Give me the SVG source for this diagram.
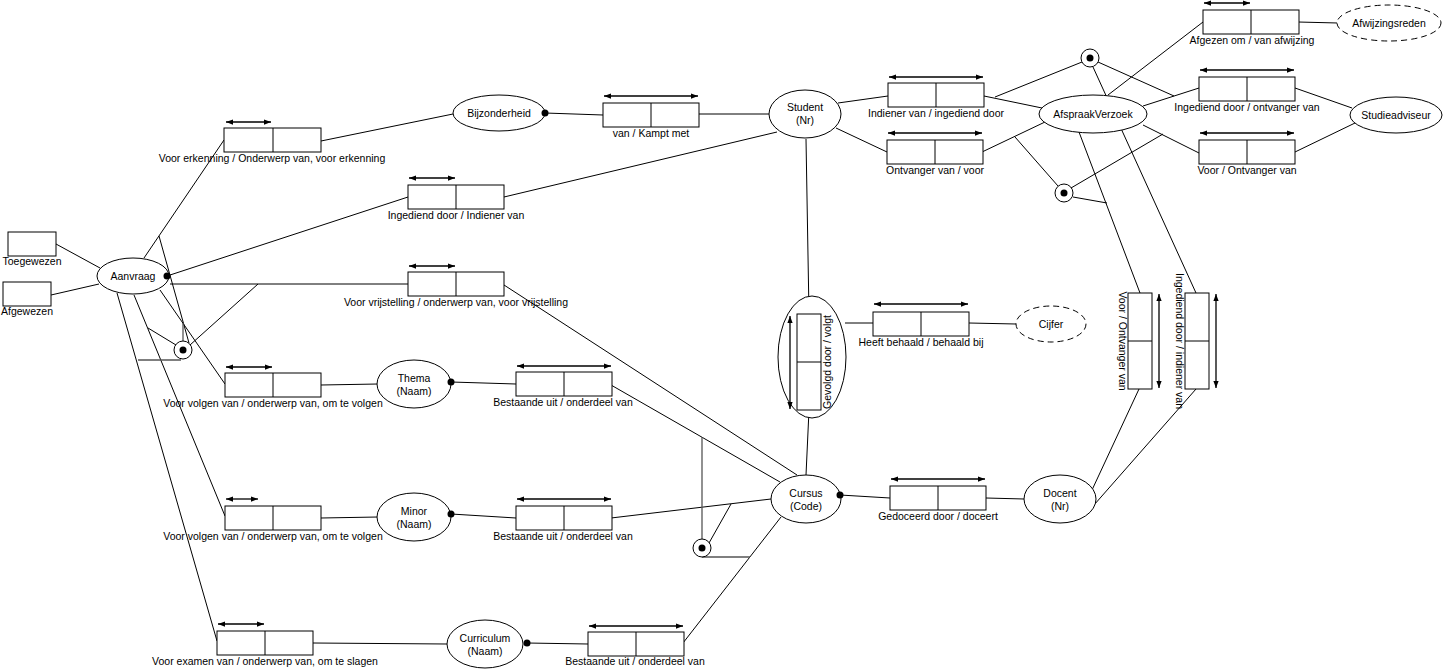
<svg xmlns="http://www.w3.org/2000/svg" width="1449" height="669" viewBox="0 0 1449 669">
<defs>
<marker id="ah" viewBox="0 0 8 6" markerWidth="7" markerHeight="6" refX="8" refY="3" orient="auto-start-reverse" markerUnits="userSpaceOnUse"><path d="M0,0 L8,3 L0,6 Z" fill="#000"/></marker>
</defs>
<style>
.bx{fill:#fff;stroke:#000;stroke-width:1}
.dv{stroke:#000;stroke-width:1}
.ar{stroke:#000;stroke-width:1.3;marker-start:url(#ah);marker-end:url(#ah)}
.el{fill:#fff;stroke:#000;stroke-width:1}
.ds{fill:#fff;stroke:#000;stroke-width:1;stroke-dasharray:6,4}
.ln line{stroke:#000;stroke-width:1}
.ln line.g{stroke:#555;stroke-width:1.3}
.dot{fill:#000}
.cc{fill:#fff;stroke:#000;stroke-width:1}
text{font-family:"Liberation Sans",Arial,sans-serif;font-size:10.5px;fill:#000}
.c{text-anchor:middle}
</style>
<g id="connectors" class="ln">
<line x1="56" y1="244" x2="100" y2="268"/>
<line x1="51" y1="295" x2="99" y2="284"/>
<line x1="144" y1="258" x2="224" y2="140"/>
<line x1="167" y1="276" x2="408" y2="197"/>
<line x1="170" y1="284" x2="408" y2="284"/>
<line x1="160" y1="290" x2="225" y2="384"/>
<line x1="134" y1="295" x2="225" y2="516"/>
<line x1="117" y1="293" x2="217" y2="641"/>
<line x1="159" y1="236" x2="189" y2="343"/>
<line class="g" x1="183" y1="323" x2="183" y2="341"/>
<line x1="148" y1="328" x2="176" y2="345"/>
<line class="g" x1="138" y1="360" x2="181" y2="360"/>
<line x1="258" y1="284" x2="190" y2="345"/>
<line x1="321" y1="141" x2="453" y2="114"/>
<line x1="545" y1="113" x2="603" y2="115"/>
<line x1="699" y1="114" x2="769" y2="114"/>
<line x1="504" y1="197" x2="777" y2="132"/>
<line x1="504" y1="285" x2="797" y2="475"/>
<line x1="321" y1="385" x2="378" y2="384"/>
<line x1="451" y1="382" x2="516" y2="384"/>
<line x1="611" y1="385" x2="780" y2="482"/>
<line x1="321" y1="518" x2="378" y2="517"/>
<line x1="451" y1="514" x2="516" y2="518"/>
<line x1="611" y1="518" x2="771" y2="499"/>
<line x1="313" y1="643" x2="447" y2="644"/>
<line x1="527" y1="643" x2="588" y2="644"/>
<line x1="683" y1="643" x2="781" y2="517"/>
<line class="g" x1="702" y1="437" x2="702" y2="539"/>
<line x1="709" y1="543" x2="731" y2="504"/>
<line class="g" x1="702" y1="557" x2="750" y2="557"/>
<line x1="806" y1="139" x2="809" y2="314"/>
<line x1="809" y1="410" x2="806" y2="475"/>
<line x1="845" y1="323" x2="873" y2="323"/>
<line x1="969" y1="323" x2="1016" y2="324"/>
<line x1="840" y1="495" x2="890" y2="498"/>
<line x1="986" y1="498" x2="1024" y2="499"/>
<line x1="838" y1="103" x2="888" y2="96"/>
<line x1="836" y1="128" x2="887" y2="152"/>
<line x1="984" y1="96" x2="1042" y2="108"/>
<line x1="982" y1="152" x2="1045" y2="122"/>
<line x1="995" y1="97" x2="1082" y2="62"/>
<line x1="1098" y1="62" x2="1174" y2="96"/>
<line x1="1093" y1="67" x2="1196" y2="293"/>
<line x1="1108" y1="95" x2="1203" y2="22"/>
<line x1="1143" y1="106" x2="1199" y2="88"/>
<line x1="1143" y1="125" x2="1199" y2="153"/>
<line x1="1298" y1="22" x2="1338" y2="23"/>
<line x1="1295" y1="88" x2="1352" y2="108"/>
<line x1="1295" y1="152" x2="1355" y2="123"/>
<line x1="1015" y1="137" x2="1058" y2="186"/>
<line x1="1071" y1="188" x2="1163" y2="134"/>
<line x1="1073" y1="197" x2="1107" y2="203"/>
<line x1="1079" y1="132" x2="1140" y2="293"/>
<line x1="1139" y1="389" x2="1092" y2="490"/>
<line x1="1196" y1="389" x2="1094" y2="505"/>
</g>
<g id="Toegewezen"><rect class="bx" x="8" y="232" width="48" height="24"/><text class="c" x="32" y="265">Toegewezen</text></g>
<g id="Afgewezen"><rect class="bx" x="3" y="282" width="48" height="24"/><text class="c" x="27" y="315">Afgewezen</text></g>
<g id="Aanvraag"><ellipse class="el" cx="133" cy="276" rx="36" ry="18"/><text class="c" x="133" y="280">Aanvraag</text><circle class="dot" cx="167" cy="276" r="3.5"/></g>
<g id="c1"><circle class="cc" cx="183" cy="350" r="9"/><circle class="dot" cx="183" cy="350" r="3.5"/></g>
<g id="f-erkenning"><rect class="bx" x="224" y="128" width="97" height="24"/><line class="dv" x1="273" y1="128" x2="273" y2="152"/><line class="ar" x1="226" y1="122" x2="271" y2="122"/><text class="c" x="272" y="162">Voor erkenning / Onderwerp van, voor erkenning</text></g>
<g id="Bijzonderheid"><ellipse class="el" cx="499" cy="113" rx="46" ry="18"/><text class="c" x="499" y="117">Bijzonderheid</text><circle class="dot" cx="545" cy="113" r="3.5"/></g>
<g id="f-kampt"><rect class="bx" x="603" y="103" width="96" height="24"/><line class="dv" x1="651" y1="103" x2="651" y2="127"/><line class="ar" x1="604" y1="96" x2="698" y2="96"/><text class="c" x="651" y="137">van / Kampt met</text></g>
<g id="f-ingediend"><rect class="bx" x="408" y="185" width="96" height="24"/><line class="dv" x1="456" y1="185" x2="456" y2="209"/><line class="ar" x1="409" y1="178" x2="455" y2="178"/><text class="c" x="456" y="219">Ingediend door / Indiener van</text></g>
<g id="f-vrijstelling"><rect class="bx" x="408" y="272" width="96" height="24"/><line class="dv" x1="456" y1="272" x2="456" y2="296"/><line class="ar" x1="409" y1="266" x2="455" y2="266"/><text class="c" x="456" y="306">Voor vrijstelling / onderwerp van, voor vrijstelling</text></g>
<g id="Student"><ellipse class="el" cx="805" cy="114" rx="36" ry="24"/><text class="c" x="805" y="111">Student</text><text class="c" x="805" y="124">(Nr)</text></g>
<g id="f-thema-volgen"><rect class="bx" x="225" y="373" width="96" height="24"/><line class="dv" x1="273" y1="373" x2="273" y2="397"/><line class="ar" x1="226" y1="367" x2="272" y2="367"/><text class="c" x="273" y="407">Voor volgen van / onderwerp van, om te volgen</text></g>
<g id="Thema"><ellipse class="el" cx="414" cy="384" rx="37" ry="24"/><text class="c" x="414" y="382">Thema</text><text class="c" x="414" y="395">(Naam)</text><circle class="dot" cx="451" cy="382" r="3.5"/></g>
<g id="f-thema-bestaande"><rect class="bx" x="516" y="372" width="96" height="24"/><line class="dv" x1="564" y1="372" x2="564" y2="396"/><line class="ar" x1="517" y1="366" x2="611" y2="366"/><text class="c" x="563" y="406">Bestaande uit / onderdeel van</text></g>
<g id="f-minor-volgen"><rect class="bx" x="225" y="506" width="96" height="24"/><line class="dv" x1="273" y1="506" x2="273" y2="530"/><line class="ar" x1="226" y1="499" x2="258" y2="499"/><text class="c" x="273" y="540">Voor volgen van / onderwerp van, om te volgen</text></g>
<g id="Minor"><ellipse class="el" cx="414" cy="517" rx="37" ry="24"/><text class="c" x="414" y="515">Minor</text><text class="c" x="414" y="528">(Naam)</text><circle class="dot" cx="451" cy="514" r="3.5"/></g>
<g id="f-minor-bestaande"><rect class="bx" x="516" y="506" width="96" height="24"/><line class="dv" x1="564" y1="506" x2="564" y2="530"/><line class="ar" x1="517" y1="499" x2="611" y2="499"/><text class="c" x="563" y="540">Bestaande uit / onderdeel van</text></g>
<g id="f-examen"><rect class="bx" x="217" y="631" width="96" height="24"/><line class="dv" x1="265" y1="631" x2="265" y2="655"/><line class="ar" x1="218" y1="624" x2="264" y2="624"/><text class="c" x="265" y="665">Voor examen van / onderwerp van, om te slagen</text></g>
<g id="Curriculum"><ellipse class="el" cx="485" cy="644" rx="38" ry="24"/><text class="c" x="485" y="642">Curriculum</text><text class="c" x="485" y="655">(Naam)</text><circle class="dot" cx="527" cy="643" r="3.5"/></g>
<g id="f-curriculum-bestaande"><rect class="bx" x="588" y="632" width="96" height="24"/><line class="dv" x1="636" y1="632" x2="636" y2="656"/><line class="ar" x1="589" y1="626" x2="683" y2="626"/><text class="c" x="635" y="665">Bestaande uit / onderdeel van</text></g>
<g id="c2"><circle class="cc" cx="702" cy="548" r="9"/><circle class="dot" cx="702" cy="548" r="3.5"/></g>
<g id="Cursus"><ellipse class="el" cx="806" cy="499" rx="35" ry="24"/><text class="c" x="806" y="497">Cursus</text><text class="c" x="806" y="510">(Code)</text><circle class="dot" cx="840" cy="495" r="3.5"/></g>
<g id="Gevolgd"><ellipse class="el" cx="812" cy="357" rx="34" ry="61"/><rect class="bx" x="797" y="314" width="24" height="96"/><line class="dv" x1="797" y1="362" x2="821" y2="362"/><line class="ar" x1="790" y1="316" x2="790" y2="409"/><text class="c" transform="translate(831,362) rotate(-90)">Gevolgd door / volgt</text></g>
<g id="f-behaald"><rect class="bx" x="873" y="312" width="96" height="24"/><line class="dv" x1="921" y1="312" x2="921" y2="336"/><line class="ar" x1="874" y1="304" x2="968" y2="304"/><text class="c" x="921" y="346">Heeft behaald / behaald bij</text></g>
<g id="Cijfer"><ellipse class="ds" cx="1051" cy="324" rx="35" ry="18"/><text class="c" x="1051" y="328">Cijfer</text></g>
<g id="f-gedoceerd"><rect class="bx" x="890" y="486" width="96" height="24"/><line class="dv" x1="938" y1="486" x2="938" y2="510"/><line class="ar" x1="891" y1="479" x2="985" y2="479"/><text class="c" x="938" y="520">Gedoceerd door / doceert</text></g>
<g id="Docent"><ellipse class="el" cx="1060" cy="499" rx="36" ry="24"/><text class="c" x="1060" y="497">Docent</text><text class="c" x="1060" y="510">(Nr)</text></g>
<g id="f-indiener"><rect class="bx" x="888" y="83" width="96" height="24"/><line class="dv" x1="936" y1="83" x2="936" y2="107"/><line class="ar" x1="889" y1="77" x2="983" y2="77"/><text class="c" x="936" y="117">Indiener van / ingediend door</text></g>
<g id="f-ontvanger"><rect class="bx" x="887" y="140" width="96" height="24"/><line class="dv" x1="935" y1="140" x2="935" y2="164"/><line class="ar" x1="888" y1="133" x2="982" y2="133"/><text class="c" x="935" y="174">Ontvanger van / voor</text></g>
<g id="AfspraakVerzoek"><ellipse class="el" cx="1093" cy="114" rx="54" ry="19"/><text class="c" x="1093" y="118">AfspraakVerzoek</text></g>
<g id="c3"><circle class="cc" cx="1090" cy="58" r="9"/><circle class="dot" cx="1090" cy="58" r="3.5"/></g>
<g id="c4"><circle class="cc" cx="1064" cy="193" r="9"/><circle class="dot" cx="1064" cy="193" r="3.5"/></g>
<g id="f-afgezen"><rect class="bx" x="1203" y="10" width="96" height="24"/><line class="dv" x1="1251" y1="10" x2="1251" y2="34"/><line class="ar" x1="1204" y1="3" x2="1250" y2="3"/><text class="c" x="1252" y="44">Afgezen om / van afwijzing</text></g>
<g id="Afwijzingsreden"><ellipse class="ds" cx="1389" cy="23" rx="52" ry="18"/><text class="c" x="1389" y="27">Afwijzingsreden</text></g>
<g id="f-ingediend-ontvanger"><rect class="bx" x="1199" y="77" width="96" height="24"/><line class="dv" x1="1247" y1="77" x2="1247" y2="101"/><line class="ar" x1="1200" y1="70" x2="1294" y2="70"/><text class="c" x="1247" y="111">Ingediend door / ontvanger van</text></g>
<g id="f-voor-ontvanger"><rect class="bx" x="1199" y="140" width="96" height="24"/><line class="dv" x1="1247" y1="140" x2="1247" y2="164"/><line class="ar" x1="1200" y1="133" x2="1294" y2="133"/><text class="c" x="1247" y="174">Voor / Ontvanger van</text></g>
<g id="Studieadviseur"><ellipse class="el" cx="1396" cy="115" rx="46" ry="18"/><text class="c" x="1396" y="119">Studieadviseur</text></g>
<g id="f-docent-voor"><rect class="bx" x="1128" y="293" width="24" height="96"/><line class="dv" x1="1128" y1="341" x2="1152" y2="341"/><line class="ar" x1="1159" y1="294" x2="1159" y2="388"/><text class="c" transform="translate(1119,341) rotate(90)">Voor / Ontvanger van</text></g>
<g id="f-docent-ingediend"><rect class="bx" x="1185" y="293" width="24" height="96"/><line class="dv" x1="1185" y1="341" x2="1209" y2="341"/><line class="ar" x1="1216" y1="294" x2="1216" y2="388"/><text class="c" transform="translate(1176,341) rotate(90)">Ingediend door / indiener van</text></g>
</svg>
